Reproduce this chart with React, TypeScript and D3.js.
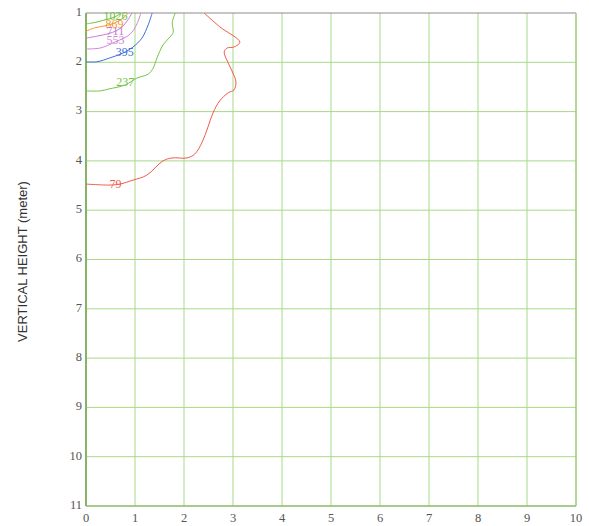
import React from "react";
import * as d3 from "d3";

const xTicks = [0, 1, 2, 3, 4, 5, 6, 7, 8, 9, 10];
const yTicks = [1, 2, 3, 4, 5, 6, 7, 8, 9, 10, 11];

const c1026: [number, number][] = [[0, 1.22], [0.14, 1.2], [0.39, 1.14], [0.59, 1.08], [0.71, 1.0]];
const c869: [number, number][] = [[0, 1.37], [0.18, 1.3], [0.39, 1.26], [0.59, 1.2], [0.76, 1.1], [0.86, 1.0]];
const c711: [number, number][] = [[0, 1.51], [0.22, 1.47], [0.49, 1.41], [0.69, 1.32], [0.84, 1.16], [0.94, 1.0]];
const c553: [number, number][] = [[0, 1.73], [0.29, 1.71], [0.59, 1.59], [0.9, 1.43], [1.04, 1.22], [1.12, 1.0]];
const c395: [number, number][] = [[0, 1.99], [0.22, 1.99], [0.49, 1.91], [0.76, 1.81], [0.96, 1.69], [1.14, 1.51], [1.27, 1.24], [1.35, 1.0]];
const c237: [number, number][] = [[0, 2.58], [0.29, 2.58], [0.47, 2.54], [0.8, 2.46], [1.04, 2.32], [1.27, 2.24], [1.37, 2.12], [1.45, 1.91], [1.57, 1.65], [1.71, 1.49], [1.78, 1.39], [1.76, 1.2], [1.82, 1.0]];
const c79: [number, number][] = [[0, 4.47], [0.49, 4.49], [0.69, 4.47], [0.96, 4.39], [1.24, 4.29], [1.57, 4.0], [1.76, 3.94], [2.06, 3.94], [2.22, 3.86], [2.37, 3.62], [2.49, 3.31], [2.59, 3.03], [2.73, 2.78], [2.9, 2.62], [3.02, 2.56], [3.06, 2.4], [3.0, 2.22], [2.9, 2.01], [2.82, 1.79], [2.88, 1.71], [3.02, 1.69], [3.14, 1.59], [2.73, 1.28], [2.41, 1.0]];

const contours = [
  { level: "1026", pts: c1026, color: "#6fbf3f", lx: 0.6, ly: 1.09 },
  { level: "869", pts: c869, color: "#f39a2b", lx: 0.58, ly: 1.24 },
  { level: "711", pts: c711, color: "#c27ad3", lx: 0.6, ly: 1.4 },
  { level: "553", pts: c553, color: "#cf86d8", lx: 0.6, ly: 1.57 },
  { level: "395", pts: c395, color: "#3e6fd8", lx: 0.79, ly: 1.81 },
  { level: "237", pts: c237, color: "#74c447", lx: 0.8, ly: 2.43 },
  { level: "79", pts: c79, color: "#f05a4c", lx: 0.6, ly: 4.5 },
];

export default function App() {
  const W = 589, H = 526;
  const x = d3.scaleLinear().domain([0, 10]).range([86, 576]);
  const y = d3.scaleLinear().domain([1, 11]).range([13, 506]);
  const line = d3.line<[number, number]>().x(d => x(d[0])).y(d => y(d[1])).curve(d3.curveCatmullRom.alpha(0.5));
  const grid = "#a9d985";
  const tickColor = "#555";
  return (
    <svg width={W} height={H} style={{ position: "absolute", left: 0, top: 0, background: "#fff" }}>
      <defs>
        <clipPath id="plot">
          <rect x={x(0)} y={y(1)} width={x(10) - x(0)} height={y(11) - y(1)} />
        </clipPath>
      </defs>
      {xTicks.slice(1, -1).map(t => (
        <line key={"gx" + t} x1={x(t)} x2={x(t)} y1={y(1)} y2={y(11)} stroke={grid} strokeWidth={1} />
      ))}
      {yTicks.slice(1, -1).map(t => (
        <line key={"gy" + t} x1={x(0)} x2={x(10)} y1={y(t)} y2={y(t)} stroke={grid} strokeWidth={1} />
      ))}
      <line x1={x(0)} x2={x(10)} y1={y(1)} y2={y(1)} stroke="#8c8c8c" strokeWidth={1.2} />
      <line x1={x(10)} x2={x(10)} y1={y(1)} y2={y(11)} stroke="#99cc77" strokeWidth={1.5} />
      <line x1={x(0)} x2={x(10)} y1={y(11)} y2={y(11)} stroke="#8aba6a" strokeWidth={1.5} />
      <line x1={x(0)} x2={x(0)} y1={y(1)} y2={y(11)} stroke="#86b466" strokeWidth={2} />
      <g clipPath="url(#plot)">
        {contours.map(c => (
          <path key={c.level} d={line(c.pts) || ""} fill="none" stroke={c.color} strokeWidth={1} />
        ))}
      </g>
      {contours.map(c => (
        <text key={"l" + c.level} x={x(c.lx)} y={y(c.ly)} fill={c.color} fontFamily="'Liberation Serif', serif" fontSize={12} textAnchor="middle" dominantBaseline="middle">{c.level}</text>
      ))}
      {yTicks.map(t => (
        <text key={"yt" + t} x={x(0) - 4} y={y(t)} fill={tickColor} fontFamily="'Liberation Serif', serif" fontSize={12.5} textAnchor="end" dominantBaseline="middle">{t}</text>
      ))}
      {xTicks.map(t => (
        <text key={"xt" + t} x={x(t)} y={y(11) + 13} fill={tickColor} fontFamily="'Liberation Serif', serif" fontSize={12.5} textAnchor="middle" dominantBaseline="middle">{t}</text>
      ))}
      <text transform={`translate(24,${(y(1) + y(11)) / 2 + 2}) rotate(-90)`} fill="#333" fontFamily="'Liberation Sans', Arial, sans-serif" fontSize={13} textAnchor="middle" dominantBaseline="middle">VERTICAL HEIGHT (meter)</text>
    </svg>
  );
}
